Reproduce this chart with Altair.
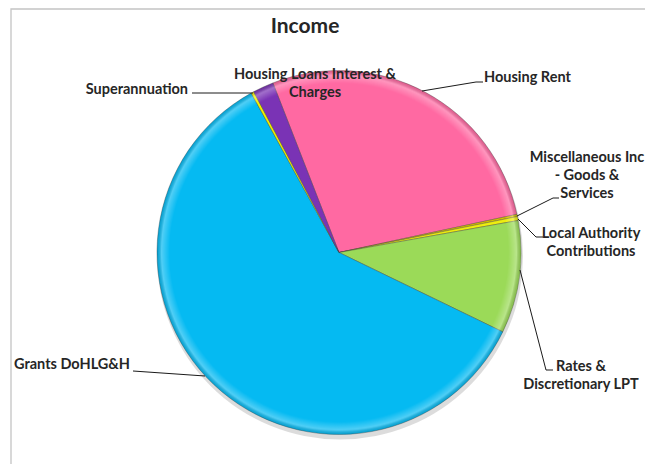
import math
import altair as alt
import pandas as pd

# ---- data (clockwise from the Housing Rent slice) ----
categories = [
    "Housing Rent",
    "Miscellaneous Inc - Goods & Services",
    "Local Authority Contributions",
    "Rates & Discretionary LPT",
    "Grants DoHLG&H",
    "Superannuation",
    "Housing Loans Interest & Charges",
]
shares = [27.55, 0.2, 0.35, 10.0, 59.8, 0.25, 1.85]
colors = ["#FF69A2", "#D9C200", "#EDED10", "#9BDA58", "#05BAF2", "#F0F000", "#7A33B5"]

label_texts = [
    "Housing Rent",
    "Miscellaneous Inc\n- Goods &\nServices",
    "Local Authority\nContributions",
    "Rates &\nDiscretionary LPT",
    "Grants DoHLG&H",
    "Superannuation",
    "Housing Loans Interest &\nCharges",
]

# ---- layout (page pixels -> view pixels, page margin 8) ----
M = 8
W, H = 637, 456
CX, CY, R = 339 - M, 252.5 - M, 182
START = math.radians(-21.3)

label_x = [484, 587, 591, 581, 130, 188, 315]
label_y = [78, 158, 234, 367, 365, 90, 75]
label_align = ["left", "center", "center", "center", "right", "right", "center"]

seg_x = [483, 476, 559, 553, 543, 536, 553, 546, 133, 192, 197]
seg_y = [82, 82, 198, 198, 237, 237, 370, 370, 371, 93, 93]
seg_x2 = [476, 422, 553, 517, 536, 518, 546, 520, 205, 197, 253]
seg_y2 = [82, 91, 198, 216, 237, 219, 370, 270, 376, 93, 93]

pie_df = pd.DataFrame({"category": categories, "share": shares, "idx": list(range(len(categories)))})
lab_df = pd.DataFrame({
    "text": label_texts,
    "x": [v - M for v in label_x],
    "y": [v - M for v in label_y],
    "align": label_align,
})
seg_df = pd.DataFrame({
    "x": [v - M for v in seg_x], "y": [v - M for v in seg_y],
    "x2": [v - M for v in seg_x2], "y2": [v - M for v in seg_y2],
})

FONT = "Lato"
theta = alt.Theta("share:Q", stack=True,
                  scale=alt.Scale(range=[START, START + 2 * math.pi]))

border = alt.Chart(pd.DataFrame({"a": [0]})).mark_rect(
    fill=None, stroke="#C4C4C4", strokeWidth=1.3
).encode(x=alt.value(3), x2=alt.value(W + 40), y=alt.value(1), y2=alt.value(H + 40))

shadow = alt.Chart(pd.DataFrame({"a": [1]})).mark_arc(
    radius=R + 1, color="#9a9a9a", opacity=0.35, theta=0, theta2=2 * math.pi
).encode(x=alt.value(CX + 1), y=alt.value(CY + 4))

pie = alt.Chart(pie_df).mark_arc(
    radius=R, stroke="#3a3a3a", strokeWidth=0.6, strokeOpacity=0.6
).encode(
    theta=theta,
    order=alt.Order("idx:Q"),
    color=alt.Color("category:N", scale=alt.Scale(domain=categories, range=colors), legend=None),
    x=alt.value(CX), y=alt.value(CY),
)

bevel = alt.Chart(pd.DataFrame({"a": [1]})).mark_arc(
    radius=R, theta=0, theta2=2 * math.pi,
    fill=alt.RadialGradient(
        gradient="radial", x1=0.5, y1=0.5, x2=0.5, y2=0.5, r1=0, r2=0.5,
        stops=[
            alt.GradientStop(offset=0, color="rgba(255,255,255,0)"),
            alt.GradientStop(offset=0.93, color="rgba(255,255,255,0)"),
            alt.GradientStop(offset=0.975, color="rgba(255,255,255,0.3)"),
            alt.GradientStop(offset=1, color="rgba(0,0,0,0.12)"),
        ],
    ),
).encode(x=alt.value(CX), y=alt.value(CY))

leaders = alt.Chart(seg_df).mark_rule(color="#1a1a1a", strokeWidth=1).encode(
    x=alt.X("x:Q", scale=None, axis=None), y=alt.Y("y:Q", scale=None, axis=None),
    x2="x2:Q", y2="y2:Q",
)

def label_layer(align):
    return alt.Chart(lab_df).transform_filter(alt.datum.align == align).mark_text(
        font=FONT, fontWeight="bold", fontSize=14.5, color="#262626",
        align=align, baseline="middle", lineBreak="\n", lineHeight=18,
    ).encode(
        x=alt.X("x:Q", scale=None, axis=None), y=alt.Y("y:Q", scale=None, axis=None),
        text="text:N",
    )

title = alt.Chart(pd.DataFrame({"t": ["Income"]})).mark_text(
    font=FONT, fontWeight="bold", fontSize=21, color="#262626", align="center", baseline="middle"
).encode(x=alt.value(305 - M), y=alt.value(27 - M), text="t:N")

chart = alt.layer(
    border, shadow, pie, bevel, leaders,
    label_layer("left"), label_layer("center"), label_layer("right"), title,
).properties(
    width=W, height=H, padding=0,
    autosize=alt.AutoSizeParams(type="fit", contains="padding"),
).configure_view(stroke=None)

chart.save("out.html", embed_options={"renderer": "svg", "actions": False})
